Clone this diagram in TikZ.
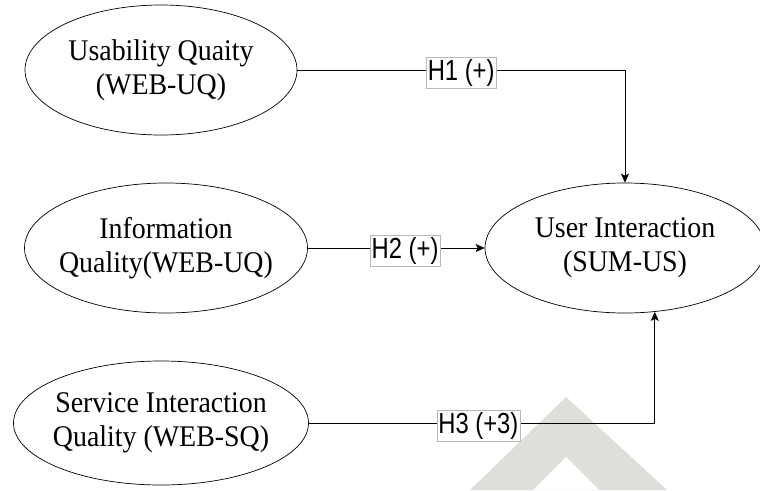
\documentclass[tikz,border=0pt]{standalone}
\usepackage{fontspec}
\setmainfont{Liberation Serif}
\newfontfamily\constructfont{Liberation Serif}[FakeStretch=0.93]
\newfontfamily\hypfont{Liberation Sans}[FakeStretch=0.82]
\usetikzlibrary{shapes.geometric,arrows.meta}

\definecolor{markgray}{RGB}{221,224,217}

\begin{document}
\begin{tikzpicture}[x=1pt,y=-1pt,>={Stealth[length=9pt,width=8pt,inset=2pt]},
    construct/.style={draw,ellipse,line width=0.7pt,inner xsep=-30pt,inner ysep=-10pt,
      align=center,font=\constructfont\fontsize{30}{34}\selectfont},
    hyp/.style={draw=gray!55,fill=white,line width=0.5pt,inner xsep=1.5pt,inner ysep=2pt,
      yshift=-3pt,font=\hypfont\fontsize{29}{30}\selectfont},
    link/.style={->,line width=0.8pt}]

        % keep the frame of the picture
        \useasboundingbox (0,0) rectangle (760,490);

        % draw the faint watermark in the lower right
        \fill[markgray] (566,397) -- (470,490) -- (667,490) -- cycle;
        \fill[white] (566,457) -- (533,490) -- (599,490) -- cycle;

        % draw the constructs
        \node[construct,minimum width=272pt,minimum height=130pt] (uq) at (161,70)
                {Usability Quaity\\(WEB-UQ)};
        \node[construct,minimum width=283pt,minimum height=130pt] (iq) at (166,248)
                {Information\\Quality(WEB-UQ)};
        \node[construct,minimum width=295pt,minimum height=124pt] (sq) at (161,423)
                {Service Interaction\\Quality (WEB-SQ)};
        \node[construct,minimum width=280pt,minimum height=130pt] (ui) at (625,248)
                {User Interaction\\(SUM-US)};

        % draw the hypotheses
        \draw[link] (uq.east) -| node[hyp,pos=0.25] {H1 (+)} (ui.north);
        \draw[link] (iq.east) -- node[hyp,pos=0.55] {H2 (+)} (ui.west);
        \draw[link] (sq.east) -| node[hyp,pos=0.245] {H3 (+3)} (ui.-65);

\end{tikzpicture}
\end{document}
